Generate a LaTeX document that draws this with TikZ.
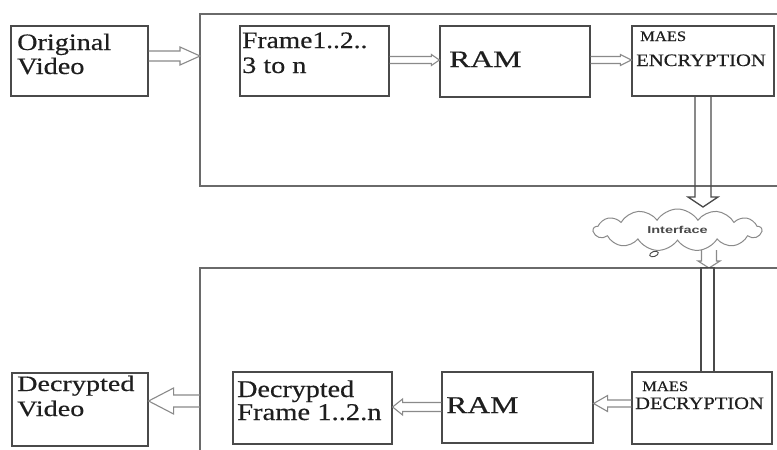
\documentclass[tikz,border=0pt]{standalone}
\usepackage{fontspec}
\setmainfont{Liberation Serif}[FakeBold=0.4]
\setsansfont{Liberation Sans}
\usetikzlibrary{calc,shapes.symbols,shapes.geometric}
\definecolor{boxline}{HTML}{4A4A4A}
\definecolor{bigline}{HTML}{6A6A6A}
\definecolor{arrline}{HTML}{8A8A8A}
\definecolor{txtcol}{HTML}{1E1E1E}
\newcommand\stx[3]{\scalebox{#1}[1]{\fontsize{#2}{#2}\selectfont #3}}
% hollow block arrow: [style]{from}{to}{half shaft}{half head}{head length}
\newcommand\barrow[6][]{%
  \coordinate (hb) at ($(#3)!#6!(#2)$);
  \draw[#1] ($(#2)!#4!90:(#3)$) -- ($(hb)!#4!-90:(#2)$) -- ($(hb)!#5!-90:(#2)$)
    -- (#3) -- ($(hb)!#5!90:(#2)$) -- ($(hb)!#4!90:(#2)$) -- ($(#2)!#4!-90:(#3)$);}
\tikzset{
  box/.style={draw=boxline, line width=1.2pt, inner sep=0pt},
  big/.style={draw=bigline, line width=1.4pt},
  txt/.style={inner sep=0pt, anchor=base west, text=txtcol},
  harr/.style={draw=arrline, line width=1.1pt, line join=miter},
  pipe/.style={draw=boxline, line width=1.3pt},
}
\begin{document}
\begin{tikzpicture}[x=1pt,y=-1pt]
\useasboundingbox (0,0) rectangle (777,450);
\fill[white] (0,0) rectangle (777,450);
% big frames
\draw[big] (777,14) -- (200,14) -- (200,186) -- (777,186);
\draw[big] (777,268) -- (200,268) -- (200,450);
\coordinate (tbw) at (200,56);
\coordinate (bbw) at (200,401);
% top row boxes
\node[box, minimum width=137, minimum height=70] (ov) at (79.5,61) {};
\node[box, minimum width=149, minimum height=70] (fr) at (314.5,61) {};
\node[box, minimum width=150, minimum height=71] (ram1) at (515,61.5) {};
\node[box, minimum width=142, minimum height=70] (enc) at (703,61) {};
% bottom row boxes
\node[box, minimum width=136, minimum height=73] (dv) at (80,409.5) {};
\node[box, minimum width=159, minimum height=72] (df) at (312.5,408) {};
\node[box, minimum width=151, minimum height=71] (ram2) at (517.5,407.5) {};
\node[box, minimum width=140, minimum height=72] (dec) at (702,408) {};
% texts
\node[txt] (t1) at (17,50) {\stx{1.2}{23.5}{Original}};
\node[txt] (t2) at (17,74) {\stx{1.2}{23.5}{Video}};
\node[txt] (t3) at (242,48) {\stx{1.17}{23.5}{Frame1..2..}};
\node[txt] (t4) at (242,73) {\stx{1.2}{23.5}{3 to n}};
\node[txt] (t5) at (449,67) {\stx{1.35}{23.5}{RAM}};
\node[txt] (t6) at (640,41) {\stx{1.14}{14.5}{MAES}};
\node[txt] (t7) at (636,66) {\stx{1.18}{17.5}{ENCRYPTION}};
\node[txt] (t8) at (17,391) {\stx{1.28}{22}{Decrypted}};
\node[txt] (t9) at (17,416) {\stx{1.28}{22}{Video}};
\node[txt] (t10) at (237,397) {\stx{1.17}{24}{Decrypted}};
\node[txt] (t11) at (237,420) {\stx{1.19}{24}{Frame 1..2.n}};
\node[txt] (t12) at (446,413) {\stx{1.32}{24}{RAM}};
\node[txt] (t13) at (642,391) {\stx{1.14}{14.5}{MAES}};
\node[txt] (t14) at (635,409) {\stx{1.17}{17.5}{DECRYPTION}};
% cloud
\node[cloud, draw=arrline, line width=1pt, cloud puffs=13, cloud puff arc=115,
      cloud ignores aspect, minimum width=168, minimum height=42, inner sep=0pt]
      (cl) at (677.5,230) {\textcolor{boxline}{\sffamily\bfseries\stx{1.45}{10}{Interface}}};
\node[ellipse, draw=boxline, line width=0.9pt, minimum width=9, minimum height=5,
      inner sep=0pt, rotate=20] (bub) at (654,254) {};
% connectors
\coordinate (c1) at ($(ov.east)+(0,-5)$);
\barrow[harr]{c1}{tbw}{5pt}{9pt}{20pt}
\coordinate (c2a) at ($(fr.east)+(0,-1)$);
\coordinate (c2b) at ($(ram1.west)+(0,-1.5)$);
\barrow[harr]{c2a}{c2b}{3.5pt}{5.5pt}{8pt}
\coordinate (c3a) at ($(ram1.east)+(0,-1.5)$);
\coordinate (c3b) at ($(enc.west)+(0,-1)$);
\barrow[harr]{c3a}{c3b}{3.5pt}{5.5pt}{11pt}
\coordinate (c4b) at (703,207);
\barrow[pipe]{enc.south}{c4b}{8pt}{15pt}{10pt}
\coordinate (c5a) at (709,250);
\coordinate (c5b) at (709,268);
\barrow[harr]{c5a}{c5b}{7.5pt}{11pt}{7pt}
\coordinate (p1) at ($(dec.north)+(-1,-104)$);
\coordinate (p2) at ($(dec.north)+(12,0)$);
\draw[pipe] (p1) rectangle (p2);
\coordinate (c7a) at ($(dec.west)+(0,-4.5)$);
\coordinate (c7b) at ($(ram2.east)+(0,-4)$);
\barrow[harr]{c7a}{c7b}{3.5pt}{8pt}{14pt}
\coordinate (c8a) at ($(ram2.west)+(0,-0.5)$);
\coordinate (c8b) at ($(df.east)+(0,-1)$);
\barrow[harr]{c8a}{c8b}{4.5pt}{8pt}{10pt}
\coordinate (c9b) at ($(dv.east)+(0,-8.5)$);
\barrow[harr]{bbw}{c9b}{6pt}{13pt}{25pt}
\end{tikzpicture}
\end{document}
